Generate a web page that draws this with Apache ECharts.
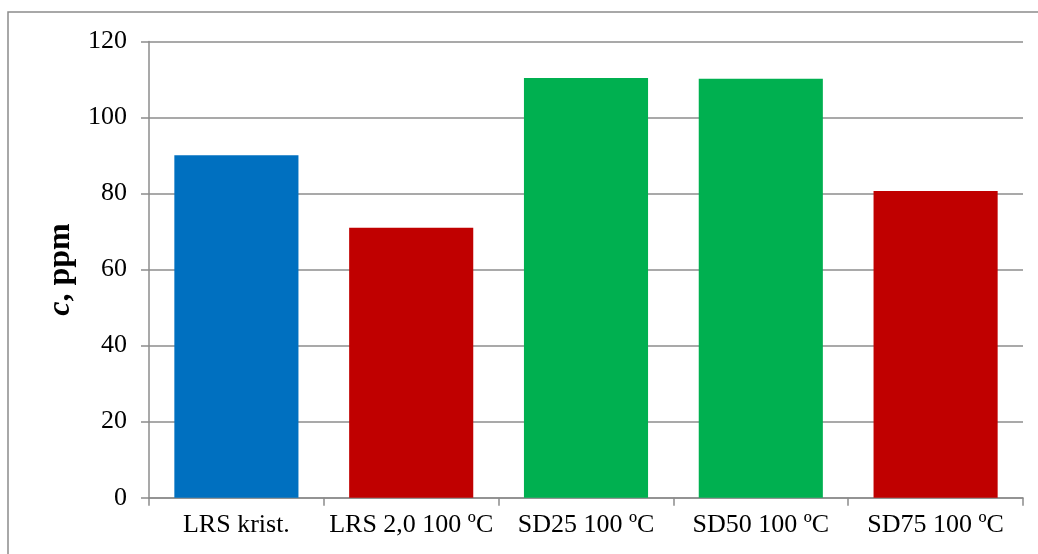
<!DOCTYPE html>
<html>
<head>
<meta charset="utf-8">
<script src="https://cdn.jsdelivr.net/npm/echarts@6/dist/echarts.min.js"></script>
<style>
html,body{margin:0;padding:0;background:#fff;}
#chart{width:1038px;height:554px;}
</style>
</head>
<body>
<div id="chart"></div>
<script>
var categories = ['LRS krist.', 'LRS 2,0 100 ºC', 'SD25 100 ºC', 'SD50 100 ºC', 'SD75 100 ºC'];
var values = [90.1, 71.0, 110.4, 110.2, 80.7];
var barColors = ['#0070C0', '#C00000', '#00B050', '#00B050', '#C00000'];
var yTicks = [0, 20, 40, 60, 80, 100, 120];

var chart = echarts.init(document.getElementById('chart'));
var font = '"Liberation Serif", "Times New Roman", serif';
var grey = '#8c8c8c';
chart.setOption({
  animation: false,
  graphic: [{
    type: 'rect',
    shape: {x: 8, y: 12, width: 1100, height: 600},
    style: {fill: 'none', stroke: grey, lineWidth: 1.5},
    silent: true
  }],
  grid: {left: 149, right: 15, top: 41.5, bottom: 56.3},
  xAxis: {
    type: 'category',
    data: categories,
    axisLine: {lineStyle: {color: grey, width: 1.5}},
    axisTick: {show: true, length: 8, lineStyle: {color: grey, width: 1.5}},
    axisLabel: {color: '#000', fontFamily: font, fontSize: 26, margin: 14, interval: 0}
  },
  yAxis: {
    type: 'value',
    min: yTicks[0],
    max: yTicks[yTicks.length - 1],
    interval: 20,
    name: '{i|c}{b|, ppm}',
    nameLocation: 'middle',
    nameRotate: 90,
    nameGap: 62,
    nameTextStyle: {
      rich: {
        i: {fontFamily: font, fontSize: 32, fontWeight: 'bold', fontStyle: 'italic', color: '#000'},
        b: {fontFamily: font, fontSize: 32, fontWeight: 'bold', color: '#000'}
      }
    },
    axisLine: {show: true, lineStyle: {color: grey, width: 1.5}},
    axisTick: {show: true, length: 8, lineStyle: {color: grey, width: 1.5}},
    splitLine: {lineStyle: {color: grey, width: 1.5}},
    axisLabel: {color: '#000', fontFamily: font, fontSize: 26, margin: 22}
  },
  series: [{
    type: 'bar',
    data: values.map(function (v, i) { return {value: v, itemStyle: {color: barColors[i]}}; }),
    barCategoryGap: '29%'
  }]
});
</script>
</body>
</html>
